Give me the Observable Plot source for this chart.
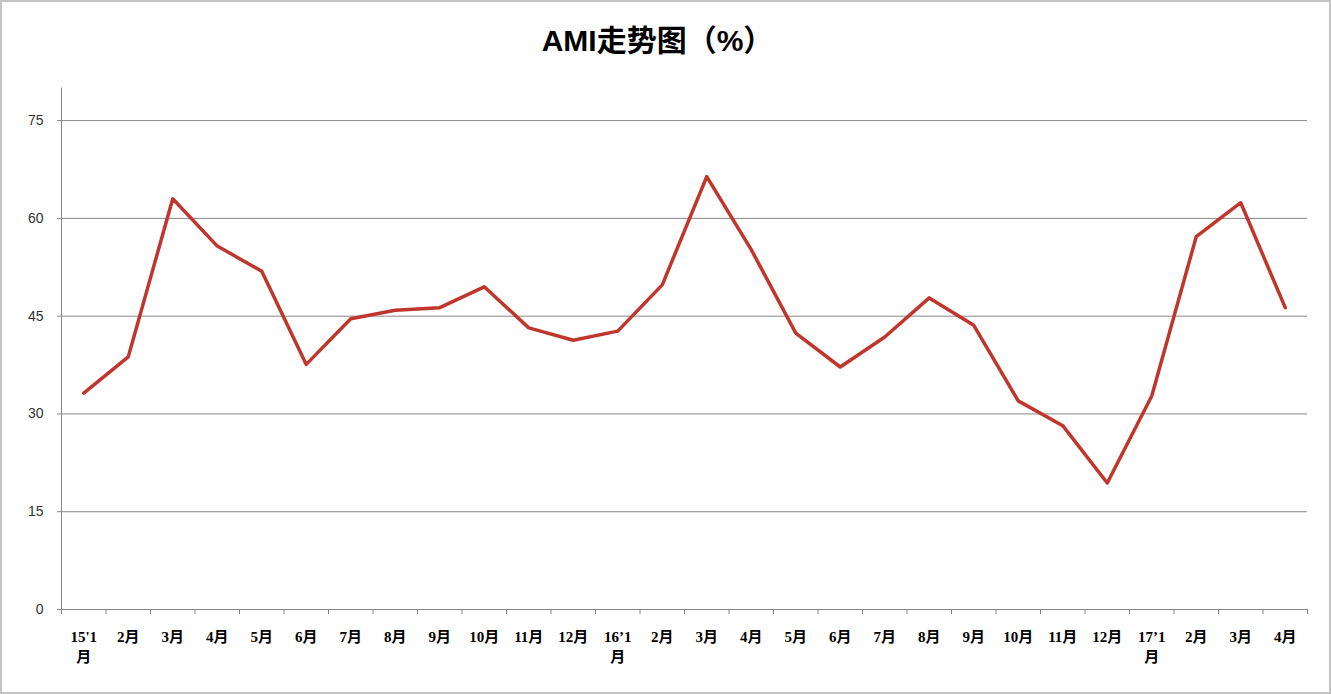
<!DOCTYPE html>
<html>
<head>
<meta charset="utf-8">
<script src="https://cdn.jsdelivr.net/npm/d3@7"></script>
<script src="https://cdn.jsdelivr.net/npm/@observablehq/plot@0.6"></script>
<style>
  html, body { margin: 0; padding: 0; background: #fff; }
  #frame { position: absolute; left: 0; top: 0; width: 1331px; height: 694px; box-sizing: border-box;
           border: 2px solid #c4c4c4; background: #fff; overflow: hidden; }
  #title { height: 78px; line-height: 78px; text-align: center; padding-right: 16px;
           font-family: "Liberation Sans", "Noto Sans CJK SC", sans-serif; font-weight: bold; font-size: 30px; color: #000; }
  svg { display: block; }
</style>
</head>
<body>
<div id="frame">
  <div id="title">AMI走势图（%）</div>
  <div id="chart"></div>
</div>
<script>
const labels = ["15'1\n月","2月","3月","4月","5月","6月","7月","8月","9月","10月","11月","12月",
                "16’1\n月","2月","3月","4月","5月","6月","7月","8月","9月","10月","11月","12月",
                "17’1\n月","2月","3月","4月"];
const values = [33.2, 38.75, 63.0, 55.75, 51.9, 37.6, 44.6, 45.9, 46.3, 49.5, 43.2, 41.3,
                42.7, 49.8, 66.4, 55.2, 42.4, 37.2, 41.8, 47.8, 43.6, 32.0, 28.2, 19.4,
                32.75, 57.2, 62.4, 46.3];
const yTicks = [0, 15, 30, 45, 60, 75];

const n = labels.length;
const data = values.map((v, i) => ({pos: i + 0.5, v, label: labels[i]}));
const centers = data.map(d => d.pos);
const boundaries = d3.range(n + 1);

const chart = Plot.plot({
  width: 1327,
  height: 612,
  marginLeft: 59,
  marginRight: 22,
  marginTop: 7.5,
  marginBottom: 83,
  style: {fontFamily: "Liberation Sans, Noto Sans CJK SC, sans-serif", background: "#fff"},
  x: {domain: [0, n], axis: null},
  y: {domain: [0, 80], axis: null},
  marks: [
    Plot.ruleY(yTicks.filter(d => d > 0), {stroke: "#868686", strokeWidth: 1}),
    Plot.axisY({ticks: yTicks, tickSize: 4, tickPadding: 14, stroke: "#868686", fill: "#333",
                fontSize: 14, label: null, tickFormat: d => String(d)}),
    Plot.ruleX([0], {stroke: "#868686"}),
    Plot.ruleY([0], {stroke: "#868686"}),
    Plot.axisX({ticks: boundaries, tickSize: 5, label: null, tickFormat: () => "", stroke: "#868686"}),
    Plot.axisX({ticks: centers, tickSize: 0, tickPadding: 19, fill: "#000", label: null,
                fontSize: 15, fontWeight: "bold", lineHeight: 1.3,
                fontFamily: "Liberation Serif, Noto Sans CJK SC, serif",
                tickFormat: d => labels[Math.round(d - 0.5)]}),
    Plot.line(data, {x: "pos", y: "v", stroke: "#c0362c", strokeWidth: 3.5, strokeLinejoin: "round", strokeLinecap: "round"})
  ]
});
document.getElementById("chart").appendChild(chart);
</script>
</body>
</html>
